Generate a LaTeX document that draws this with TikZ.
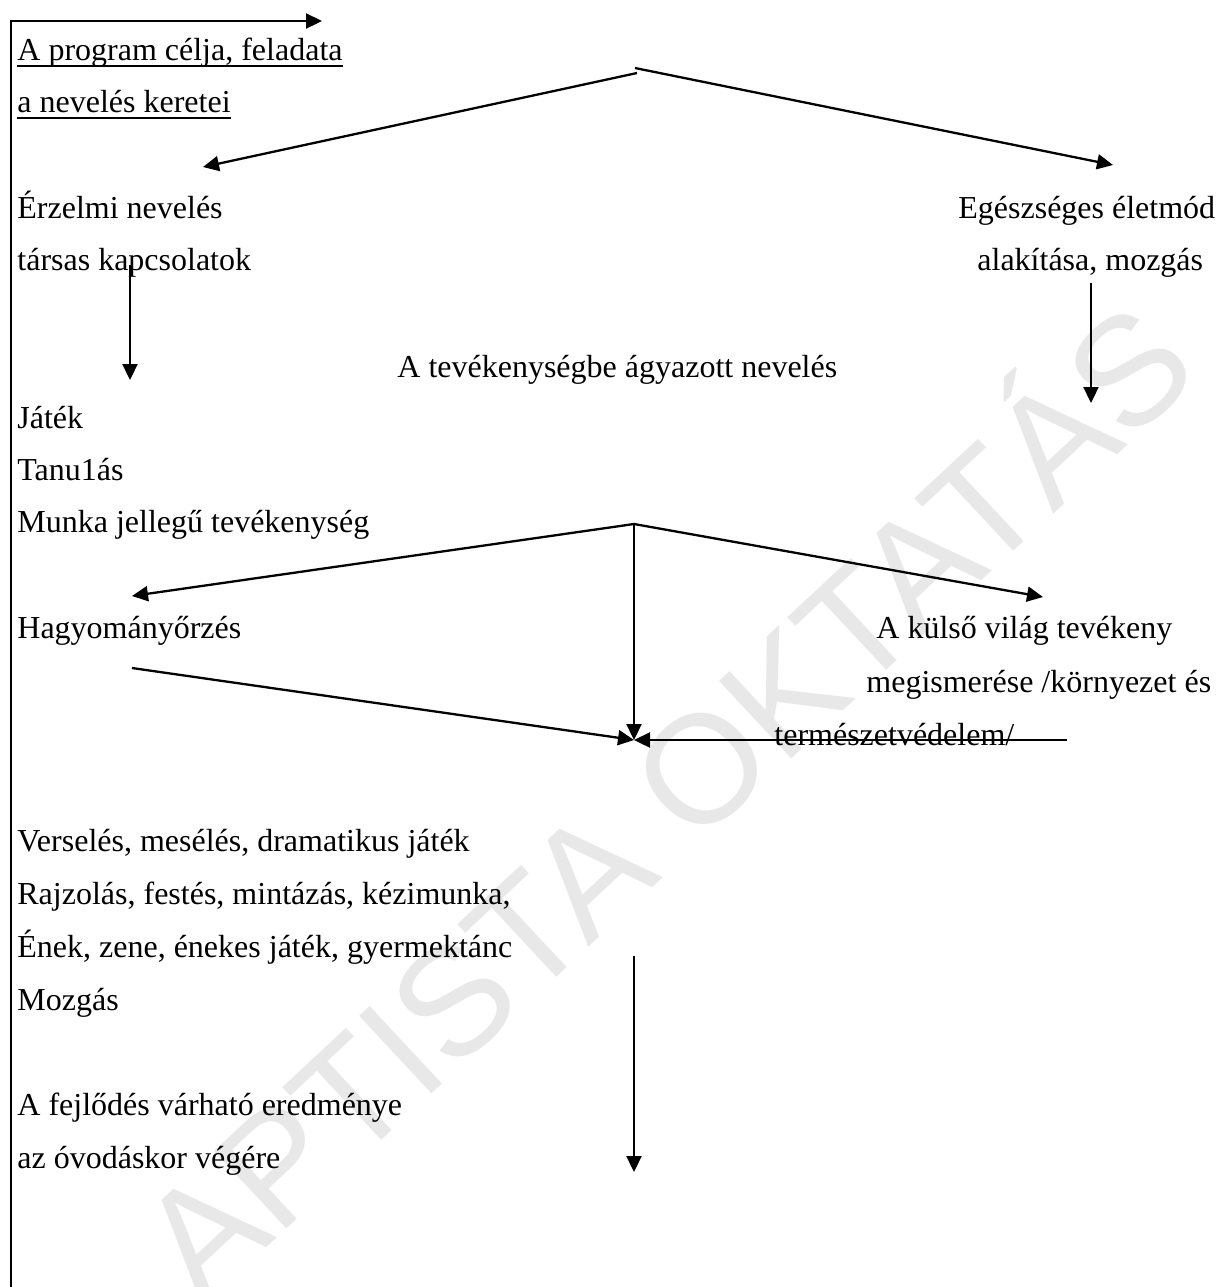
\documentclass[tikz,border=0pt]{standalone}
\usepackage{fontspec}
\setmainfont{Liberation Serif}
\newfontfamily\wmfont{Liberation Sans}
\usetikzlibrary{arrows.meta}
\begin{document}
\begin{tikzpicture}[x=0.5pt,y=-0.5pt,
  txt/.style={anchor=base west,inner sep=0pt,font=\fontsize{16}{19}\selectfont},
  conn/.style={line width=1.15pt},
  arr/.style={conn,-{Triangle[length=8pt,width=7.5pt]}},
  uline/.style={line width=0.75pt},
  wm/.style={rotate=43,anchor=base,inner sep=0pt,text=black!9,font=\wmfont\fontsize{77}{77}\selectfont}]
\useasboundingbox (0,0) rectangle (1217,1287);
\fill[white] (0,0) rectangle (1217,1287);
% watermark
\node[wm] (wmark) at (703,841) {APTISTA OKTATÁS};
% texts
\node[txt] (goal1) at (17,60) {A program célja, feladata};
\node[txt] (goal2) at (17,112) {a nevelés keretei};
\draw[uline] ([yshift=-3pt]goal1.base west) -- ([yshift=-3pt]goal1.base east);
\draw[uline] ([yshift=-3pt]goal2.base west) -- ([yshift=-3pt]goal2.base east);
\node[txt] (erz1) at (17,218) {Érzelmi nevelés};
\node[txt] (erz2) at (17,270) {társas kapcsolatok};
\node[txt] (egz1) at (958,218) {Egészséges életmód};
\node[txt] (egz2) at (977,270) {alakítása, mozgás};
\node[txt] (tev) at (397,377) {A tevékenységbe ágyazott nevelés};
\node[txt] (jat) at (17,428) {Játék};
\node[txt] (tan) at (17,480) {Tanu1ás};
\node[txt] (mun) at (17,532) {Munka jellegű tevékenység};
\node[txt] (hag) at (17,638) {Hagyományőrzés};
\node[txt] (kul1) at (876,638) {A külső világ tevékeny};
\node[txt] (kul2) at (866,692) {megismerése /környezet és};
\node[txt] (kul3) at (774,745) {természetvédelem/};
\node[txt] (ver) at (17,851) {Verselés, mesélés, dramatikus játék};
\node[txt] (raj) at (17,904) {Rajzolás, festés, mintázás, kézimunka,};
\node[txt] (ene) at (17,957) {Ének, zene, énekes játék, gyermektánc};
\node[txt] (moz) at (17,1010) {Mozgás};
\node[txt] (fej1) at (17,1115) {A fejlődés várható eredménye};
\node[txt] (fej2) at (17,1168) {az óvodáskor végére};
% coordinates
\coordinate (frameB) at (11,1290);
\coordinate (frameC) at (11,21);
\coordinate (frameR) at (322,21);
\coordinate (f1) at (635,68);
\coordinate (f1b) at (637,73);
\coordinate (f1L) at (203,167);
\coordinate (f1R) at (1113,165);
\coordinate (dL1) at (130,265);
\coordinate (dL2) at (130,380);
\coordinate (dR1) at (1091,283);
\coordinate (dR2) at (1091,403);
\coordinate (f2) at (634,524);
\coordinate (f2L) at (132,596);
\coordinate (f2R) at (1043,597);
\coordinate (conv) at (634,740);
\coordinate (h1) at (132,668);
\coordinate (k1) at (1067,740);
\coordinate (b1) at (634,956);
\coordinate (b2) at (634,1172);
% connectors
\draw[arr] (frameB) -- (frameC) -- (frameR);
\draw[arr] (f1b) -- (f1L);
\draw[arr] (f1) -- (f1R);
\draw[arr] (dL1) -- (dL2);
\draw[arr] (dR1) -- (dR2);
\draw[arr] (f2) -- (f2L);
\draw[arr] (f2) -- (f2R);
\draw[arr] (f2) -- (conv);
\draw[arr] (h1) -- (conv);
\draw[arr] (k1) -- (conv);
\draw[arr] (b1) -- (b2);
\end{tikzpicture}
\end{document}
